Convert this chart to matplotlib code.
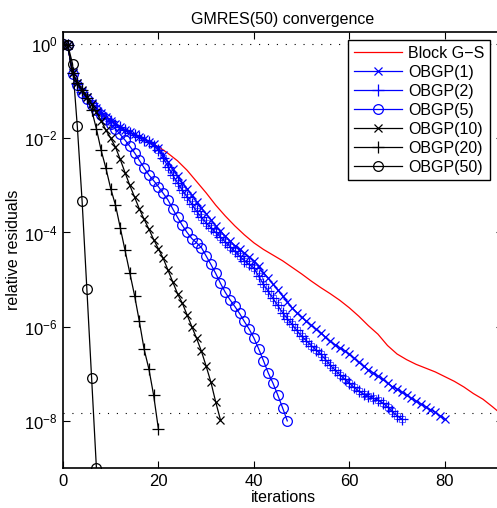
import numpy as np
import matplotlib
matplotlib.use("Agg")
import matplotlib.pyplot as plt

plt.rcParams['font.family'] = ['Liberation Sans', 'DejaVu Sans']
plt.rcParams['mathtext.fontset'] = 'custom'
plt.rcParams['mathtext.rm'] = 'Liberation Sans'

# residuals stored as log10 exponents
gs_it = [0, 1, 2, 3, 4, 6, 8, 10, 12, 14, 16, 18, 20, 22, 24, 26, 28, 30, 32, 34,
         36, 38, 40, 42, 44, 46, 48, 50, 52, 54, 56, 58, 60, 62, 64, 66, 68, 70, 72, 74,
         76, 78, 80, 82, 84, 86, 88, 90, 92, 95]
gs_exp = [0, -0.05, -0.6, -0.84, -1.0, -1.25, -1.45, -1.62, -1.76, -1.88,
          -1.98, -2.08, -2.18, -2.32, -2.48, -2.68, -2.92, -3.16, -3.42, -3.65,
          -3.86, -4.05, -4.22, -4.36, -4.48, -4.6, -4.74, -4.88, -5.03, -5.17,
          -5.3, -5.44, -5.6, -5.78, -5.98, -6.16, -6.4, -6.58, -6.7, -6.8,
          -6.88, -6.96, -7.06, -7.16, -7.28, -7.42, -7.54, -7.7, -7.87, -8.1]

obgp1 = [0, -0.03, -0.6, -0.83, -1.0, -1.13, -1.25, -1.36, -1.46, -1.55,
         -1.63, -1.7, -1.76, -1.82, -1.87, -1.92, -1.97, -2.02, -2.07, -2.13,
         -2.2, -2.35, -2.5, -2.65, -2.8, -2.94, -3.07, -3.21, -3.35, -3.48,
         -3.6, -3.73, -3.86, -3.97, -4.08, -4.18, -4.28, -4.36, -4.44, -4.52,
         -4.6, -4.72, -4.85, -4.97, -5.1, -5.22, -5.35, -5.47, -5.6, -5.7,
         -5.8, -5.89, -5.97, -6.05, -6.13, -6.22, -6.31, -6.38, -6.45, -6.51,
         -6.58, -6.67, -6.76, -6.84, -6.92, -6.98, -7.05, -7.12, -7.2, -7.27,
         -7.33, -7.39, -7.45, -7.52, -7.58, -7.64, -7.7, -7.76, -7.82, -7.89,
         -7.96]

obgp2 = [0, -0.03, -0.61, -0.84, -1.01, -1.14, -1.26, -1.37, -1.47, -1.56,
         -1.64, -1.71, -1.77, -1.83, -1.88, -1.93, -1.98, -2.03, -2.09, -2.16,
         -2.25, -2.42, -2.6, -2.78, -2.95, -3.1, -3.25, -3.4, -3.55, -3.68,
         -3.8, -3.9, -4.0, -4.1, -4.2, -4.3, -4.4, -4.5, -4.6, -4.68,
         -4.75, -4.93, -5.1, -5.25, -5.4, -5.55, -5.7, -5.83, -5.95, -6.08,
         -6.2, -6.3, -6.4, -6.49, -6.58, -6.7, -6.82, -6.92, -7.02, -7.11,
         -7.2, -7.29, -7.37, -7.43, -7.48, -7.52, -7.56, -7.62, -7.7, -7.8,
         -7.89, -7.96]

obgp5 = [0, -0.03, -0.64, -0.87, -1.04, -1.17, -1.29, -1.4, -1.5, -1.6,
         -1.7, -1.8, -1.92, -2.04, -2.17, -2.31, -2.47, -2.63, -2.78, -2.9,
         -3.03, -3.17, -3.31, -3.5, -3.68, -3.85, -4.0, -4.13, -4.22, -4.32,
         -4.5, -4.68, -4.87, -5.08, -5.27, -5.43, -5.57, -5.72, -5.89, -6.05,
         -6.24, -6.47, -6.72, -6.98, -7.2, -7.45, -7.72, -8.0]

obgp10 = [0, -0.03, -0.62, -0.82, -0.98, -1.13, -1.28, -1.45, -1.63, -1.83,
          -2.0, -2.19, -2.45, -2.73, -3.0, -3.25, -3.5, -3.72, -3.93, -4.15,
          -4.35, -4.55, -4.8, -5.05, -5.3, -5.5, -5.75, -6.0, -6.25, -6.52,
          -6.84, -7.18, -7.6, -7.98]

obgp20 = [0, -0.03, -0.62, -0.82, -0.98, -1.15, -1.4, -1.8, -2.26, -2.64,
          -3.07, -3.42, -3.9, -4.38, -4.86, -5.34, -5.89, -6.48, -6.9, -7.46,
          -8.18]

obgp50 = [0, -0.02, -0.42, -1.75, -3.33, -5.2, -7.1, -9.0]

tol = 1.5e-8

fig = plt.figure(figsize=(4.97, 5.08), dpi=100)
# axes runs a little past the right edge, as in the cropped original
ax = fig.add_axes([63/497, 40/508, 440/497, 436/508])

def res(e):
    return 10.0 ** np.array(e)

def its(e):
    return np.arange(len(e))

dots = (0, (1, 7))
ax.axhline(1.0, color='k', ls=dots, lw=0.8)
ax.axhline(tol, color='k', ls=dots, lw=0.8)

ax.semilogy(gs_it, res(gs_exp), color='red', lw=0.9, label='Block G\u2212S')
ax.semilogy(its(obgp1), res(obgp1), color='blue', lw=0.9, marker='x', ms=6,
            mew=0.9, label='OBGP(1)')
ax.semilogy(its(obgp2), res(obgp2), color='blue', lw=0.9, marker='+', ms=8,
            mew=0.9, label='OBGP(2)')
ax.semilogy(its(obgp2)[20:], res(obgp2)[20:], color='blue', lw=0, marker='s',
            ms=4, mew=0.6, fillstyle='none', alpha=0.7)
ax.semilogy(its(obgp5), res(obgp5), color='blue', lw=0.9, marker='o', ms=7,
            mew=0.9, fillstyle='none', label='OBGP(5)')
ax.semilogy(its(obgp10), res(obgp10), color='black', lw=0.9, marker='x', ms=6,
            mew=0.9, label='OBGP(10)')
ax.semilogy(its(obgp20), res(obgp20), color='black', lw=0.9, marker='+', ms=8,
            mew=0.9, label='OBGP(20)')
ax.semilogy(its(obgp50), res(obgp50), color='black', lw=0.9, marker='o', ms=7,
            mew=0.9, fillstyle='none', label='OBGP(50)')

ax.set_xlim(0, 92.2)
ax.set_ylim(1e-9, 1.8)
ax.set_xticks([0, 20, 40, 60, 80])
ax.set_yticks([1e0, 1e-2, 1e-4, 1e-6, 1e-8])
ax.yaxis.set_minor_locator(matplotlib.ticker.NullLocator())
ax.tick_params(direction='in', top=True, right=True, length=5, width=0.8,
               labelsize=12, pad=4)
for s in ax.spines.values():
    s.set_linewidth(1.2)

ax.set_title('GMRES(50) convergence', fontsize=11.5, pad=6)
ax.set_xlabel('iterations', fontsize=11.5, labelpad=1)
ax.set_ylabel('relative residuals', fontsize=11.5, labelpad=2)

leg = ax.legend(loc='upper right', bbox_to_anchor=(490/497, 1 - 40/508),
                bbox_transform=fig.transFigure, fontsize=11.5, fancybox=False,
                framealpha=1, edgecolor='black', handlelength=3.0,
                handletextpad=0.4, labelspacing=0.25, borderpad=0.35,
                borderaxespad=0)
leg.get_frame().set_linewidth(1.0)

fig.savefig('out.png', dpi=100)
